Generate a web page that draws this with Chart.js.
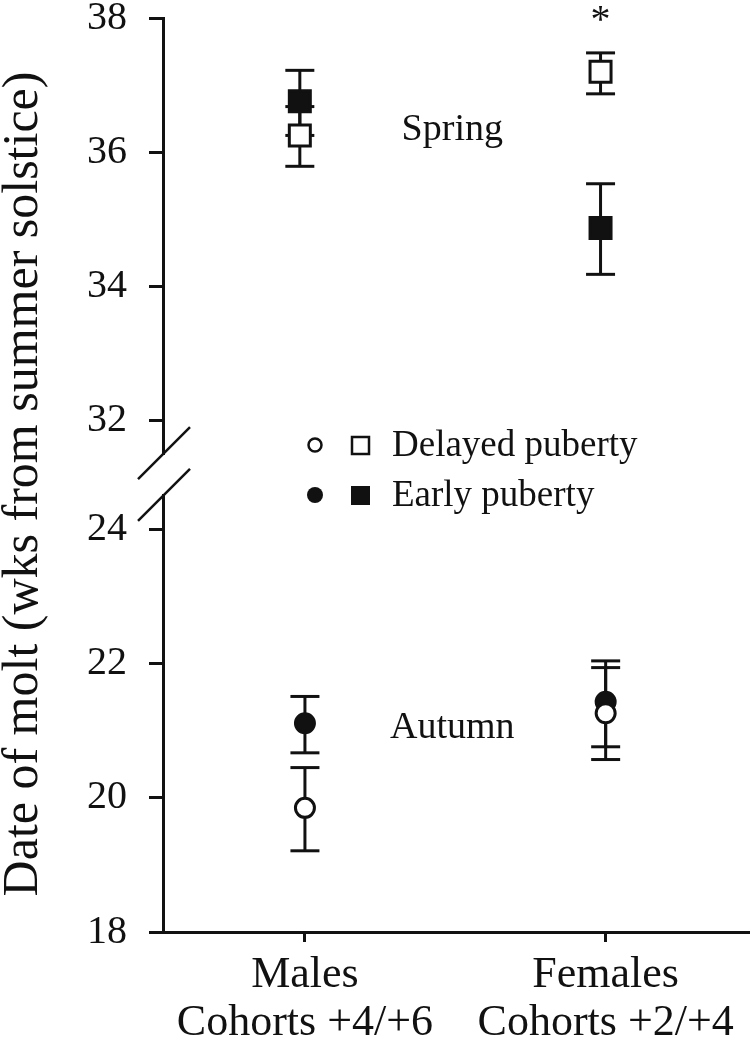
<!DOCTYPE html>
<html>
<head>
<meta charset="utf-8">
<script src="https://cdn.jsdelivr.net/npm/chart.js@4.4.1/dist/chart.umd.min.js"></script>
<style>
  html, body { margin: 0; padding: 0; background: #ffffff; overflow: hidden; }
  #wrap { width: 750px; height: 1050px; position: relative; }
  #c { display: block; }
</style>
</head>
<body>
<div id="wrap"><canvas id="c" width="750" height="1050"></canvas></div>
<script>
// ---------------- data ----------------
const categories = [['Males', 'Cohorts +4/+6'], ['Females', 'Cohorts +2/+4']];
const groupX = [1, 2];

// Spring molt (weeks from summer solstice), mean and error-bar ends
const springDelayed     = [36.25, 37.20];
const springDelayedLow  = [35.79, 36.87];
const springDelayedHigh = [36.68, 37.48];
const springEarly       = [36.76, 34.87];
const springEarlyLow    = [36.25, 34.18];
const springEarlyHigh   = [37.22, 35.53];

// Autumn molt
const autumnDelayed     = [19.85, 21.26];
const autumnDelayedLow  = [19.21, 20.57];
const autumnDelayedHigh = [20.45, 21.94];
const autumnEarly       = [21.11, 21.43];
const autumnEarlyLow    = [20.67, 20.76];
const autumnEarlyHigh   = [21.51, 22.04];

const topTicks = [32, 34, 36, 38];
const bottomTicks = [18, 20, 22, 24];
const legendLabels = ['Delayed puberty', 'Early puberty'];
const seasonLabels = ['Spring', 'Autumn'];
const yTitle = 'Date of molt (wks from summer solstice)';
const signif = '*';

// ---------------- styles ----------------
const INK = '#111111';
const FONT = "'Liberation Serif', 'Times New Roman', serif";
const SPRING_DODGE = -0.017;

function pts(xs, ys, dx) { return xs.map((x, i) => ({ x: x + (dx || 0), y: ys[i] })); }

const datasets = [
  { label: legendLabels[0] + ' (autumn)', data: pts(groupX, autumnDelayed), errLow: autumnDelayedLow, errHigh: autumnDelayedHigh,
    yAxisID: 'yBot', pointStyle: 'circle', pointRadius: 9.5, backgroundColor: '#ffffff', borderColor: INK, borderWidth: 3 },
  { label: legendLabels[1] + ' (autumn)', data: pts(groupX, autumnEarly), errLow: autumnEarlyLow, errHigh: autumnEarlyHigh,
    yAxisID: 'yBot', pointStyle: 'circle', pointRadius: 9.5, backgroundColor: INK, borderColor: INK, borderWidth: 3 },
  { label: legendLabels[0] + ' (spring)', data: pts(groupX, springDelayed, SPRING_DODGE), errLow: springDelayedLow, errHigh: springDelayedHigh,
    yAxisID: 'yTop', pointStyle: 'rect', pointRadius: 14.85, backgroundColor: '#ffffff', borderColor: INK, borderWidth: 3 },
  { label: legendLabels[1] + ' (spring)', data: pts(groupX, springEarly, SPRING_DODGE), errLow: springEarlyLow, errHigh: springEarlyHigh,
    yAxisID: 'yTop', pointStyle: 'rect', pointRadius: 14.85, backgroundColor: INK, borderColor: INK, borderWidth: 3 }
];

function line(ctx, x1, y1, x2, y2) { ctx.beginPath(); ctx.moveTo(x1, y1); ctx.lineTo(x2, y2); ctx.stroke(); }

const decor = {
  id: 'decor',
  beforeDatasetsDraw(chart) {
    const ctx = chart.ctx;
    ctx.save();
    ctx.strokeStyle = INK; ctx.lineWidth = 3; ctx.lineCap = 'butt';
    chart.data.datasets.forEach((ds, i) => {
      const meta = chart.getDatasetMeta(i);
      const xs = chart.scales[meta.xAxisID], ys = chart.scales[meta.yAxisID];
      ds.data.forEach((p, j) => {
        const x = xs.getPixelForValue(p.x);
        const yl = ys.getPixelForValue(ds.errLow[j]);
        const yh = ys.getPixelForValue(ds.errHigh[j]);
        line(ctx, x, yl, x, yh);
        line(ctx, x - 14.5, yl, x + 14.5, yl);
        line(ctx, x - 14.5, yh, x + 14.5, yh);
      });
    });
    ctx.restore();
  },
  afterDraw(chart) {
    const ctx = chart.ctx;
    const ca = chart.chartArea;
    const xs = chart.scales.x, yT = chart.scales.yTop, yB = chart.scales.yBot;
    ctx.save();
    // axis break marks
    ctx.strokeStyle = INK; ctx.lineWidth = 2.5;
    const ax = ca.left;
    line(ctx, ax - 25, yT.bottom + 25, ax + 27, yT.bottom - 27);
    line(ctx, ax - 25, yB.top + 25, ax + 27, yB.top - 27);

    // y title
    ctx.fillStyle = INK;
    ctx.font = '50px ' + FONT;
    ctx.textAlign = 'center'; ctx.textBaseline = 'alphabetic';
    ctx.save();
    ctx.translate(37, 484);
    ctx.rotate(-Math.PI / 2);
    ctx.fillText(yTitle, 0, 0);
    ctx.restore();

    // season labels
    ctx.font = '38px ' + FONT;
    ctx.textAlign = 'center'; ctx.textBaseline = 'middle';
    ctx.fillText(seasonLabels[0], xs.getPixelForValue(1.49), yT.getPixelForValue(36.33));
    ctx.fillText(seasonLabels[1], xs.getPixelForValue(1.49), yB.getPixelForValue(21.04));

    // significance asterisk
    ctx.font = '40px ' + FONT;
    ctx.fillText(signif, xs.getPixelForValue(groupX[1] + SPRING_DODGE), yT.getPixelForValue(38) + 3);

    // legend
    const rows = [445, 495];
    ctx.lineWidth = 2.5;
    rows.forEach((ry, k) => {
      const filled = k === 1;
      ctx.fillStyle = filled ? INK : '#ffffff';
      ctx.beginPath(); ctx.arc(315, ry, filled ? 8 : 6.5, 0, Math.PI * 2);
      ctx.fill(); if (!filled) ctx.stroke();
      if (filled) { ctx.fillRect(351, ry - 9, 19, 19); }
      else { ctx.fillRect(352, ry - 8, 17, 17); ctx.strokeRect(352, ry - 8, 17, 17); }
      ctx.fillStyle = INK;
      ctx.font = '37px ' + FONT;
      ctx.textAlign = 'left'; ctx.textBaseline = 'middle';
      ctx.fillText(legendLabels[k], 392, ry + 1);
    });
    ctx.restore();
  }
};

const tickFont = { family: FONT, size: 40 };
const fitWidth = (s) => { s.width = 163; s.paddingTop = 0; s.paddingBottom = 0; };

new Chart(document.getElementById('c'), {
  type: 'scatter',
  data: { datasets },
  options: {
    responsive: false,
    animation: false,
    events: [],
    layout: { autoPadding: false, padding: { top: 18, right: 0, left: 0, bottom: 0 } },
    plugins: { legend: { display: false }, tooltip: { enabled: false } },
    elements: { point: { hitRadius: 0, hoverRadius: 0 } },
    scales: {
      x: {
        type: 'linear', position: 'bottom', min: 0.528, max: 2.48,
        afterBuildTicks: (s) => { s.ticks = groupX.map(v => ({ value: v })); },
        afterFit: (s) => { s.height = 118; s.paddingLeft = 0; s.paddingRight = 0; },
        border: { display: true, color: INK, width: 3 },
        grid: { display: true, drawOnChartArea: false, drawTicks: true, tickLength: 10, tickWidth: 3, tickColor: INK },
        ticks: {
          color: INK, font: { family: FONT, size: 44, lineHeight: 1.08 }, padding: 10, maxRotation: 0, autoSkip: false,
          callback: (v) => { const i = groupX.indexOf(v); return i >= 0 ? categories[i] : ''; }
        }
      },
      yBot: {
        type: 'linear', position: 'left', stack: 'molt', stackWeight: 6.5, min: 18, max: 24.5,
        afterBuildTicks: (s) => { s.ticks = bottomTicks.map(v => ({ value: v })); },
        afterFit: fitWidth,
        border: { display: true, color: INK, width: 3 },
        grid: { display: true, drawOnChartArea: false, drawTicks: true, tickLength: 14, tickWidth: 3, tickColor: INK },
        ticks: { color: INK, font: tickFont, padding: 22 }
      },
      yGap: {
        type: 'linear', position: 'left', stack: 'molt', stackWeight: 0.62, min: 0, max: 1,
        afterBuildTicks: (s) => { s.ticks = []; },
        afterFit: fitWidth,
        border: { display: false },
        grid: { display: false },
        ticks: { display: false }
      },
      yTop: {
        type: 'linear', position: 'left', stack: 'molt', stackWeight: 6.5, min: 31.5, max: 38,
        afterBuildTicks: (s) => { s.ticks = topTicks.map(v => ({ value: v })); },
        afterFit: fitWidth,
        border: { display: true, color: INK, width: 3 },
        grid: { display: true, drawOnChartArea: false, drawTicks: true, tickLength: 14, tickWidth: 3, tickColor: INK },
        ticks: { color: INK, font: tickFont, padding: 22 }
      }
    }
  },
  plugins: [decor]
});
</script>
</body>
</html>
